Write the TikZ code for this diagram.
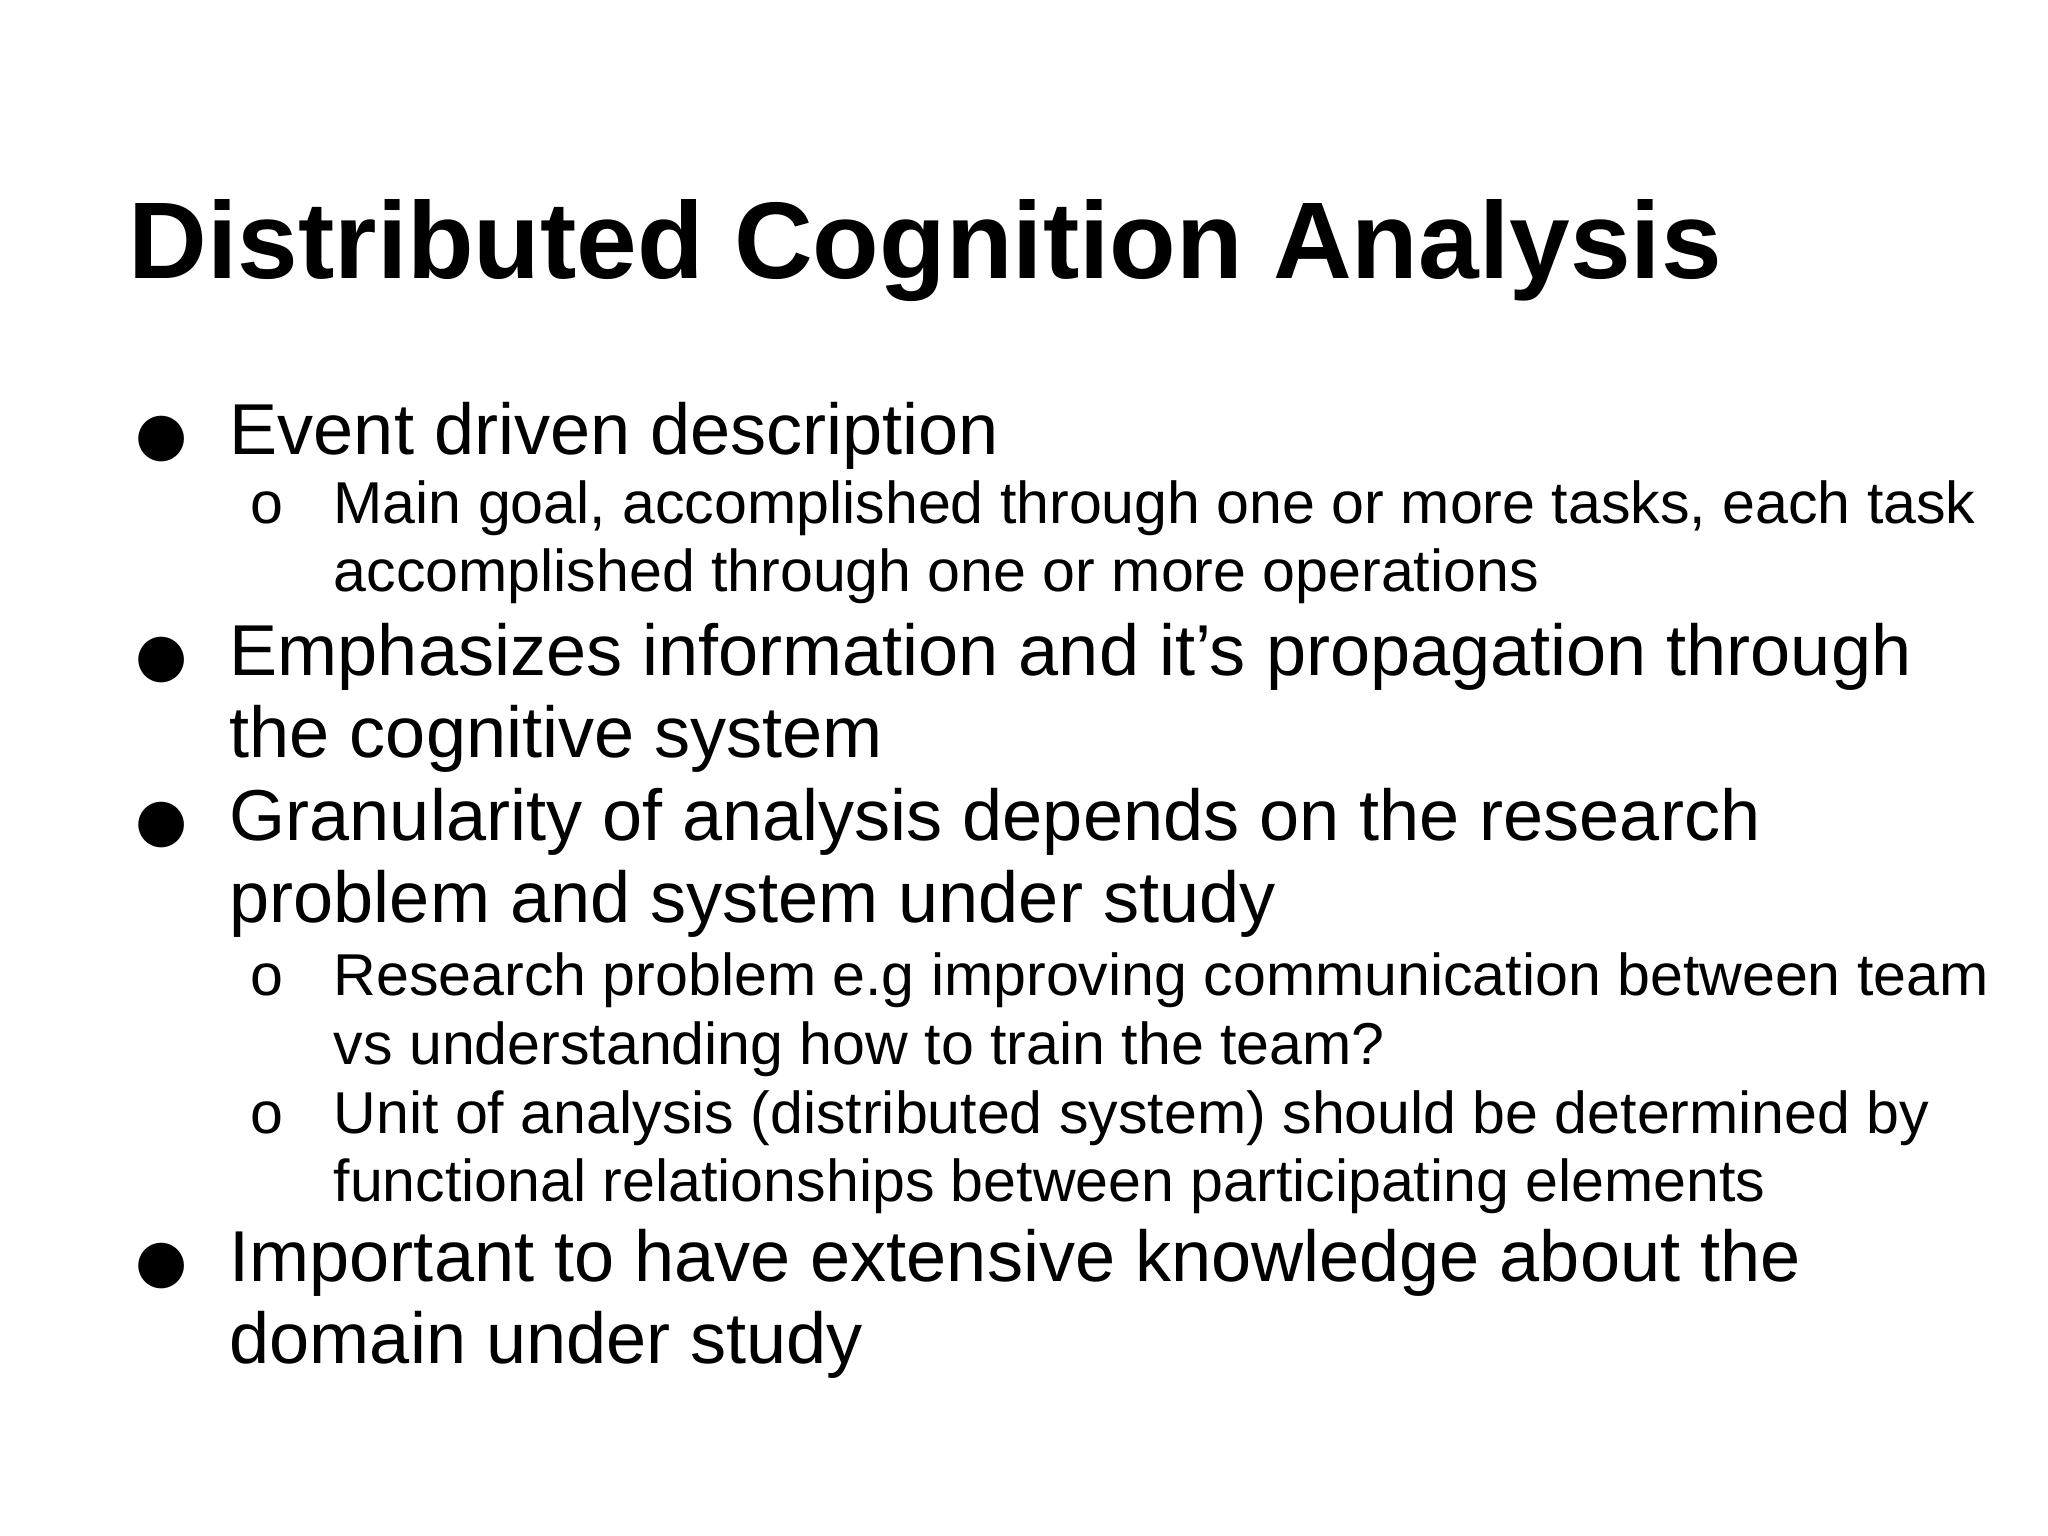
\documentclass[tikz,border=0pt]{standalone}
\usepackage{fontspec}
\setmainfont{Liberation Sans}
\newfontfamily\dejavu{DejaVu Sans}
\begin{document}
\begin{tikzpicture}[x=0.01cm,y=-0.01cm,
  ttl/.style={anchor=base west,inner sep=0pt,font=\fontsize{31}{36}\selectfont\bfseries},
  mainl/.style={anchor=base west,inner sep=0pt,font=\fontsize{20.5}{24}\selectfont},
  subl/.style={anchor=base west,inner sep=0pt,font=\fontsize{16.8}{20}\selectfont},
  bul/.style={anchor=base,inner sep=0pt,font=\fontsize{17}{20}\selectfont\dejavu},
  sbul/.style={anchor=base,inner sep=0pt,font=\fontsize{16.8}{20}\selectfont}]
\fill[white] (0,0) rectangle (2048,1536);
\useasboundingbox (0,0) rectangle (2048,1536);
\node[ttl] (title) at (128,278) {Distributed Cognition Analysis};
% bullets
\node[bul] (b1) at (162,454) {●};
\node[mainl] (t1) at (229,454) {Event driven description};
\node[sbul] (s1) at (267,523) {o};
\node[subl] (u1a) at (333,523) {Main goal, accomplished through one or more tasks, each task};
\node[subl] (u1b) at (333,591) {accomplished through one or more operations};
\node[bul] (b2) at (162,675) {●};
\node[mainl] (t2a) at (229,675) {Emphasizes information and it’s propagation through};
\node[mainl] (t2b) at (229,757) {the cognitive system};
\node[bul] (b3) at (162,840) {●};
\node[mainl] (t3a) at (229,840) {Granularity of analysis depends on the research};
\node[mainl] (t3b) at (229,922) {problem and system under study};
\node[sbul] (s2) at (267,995) {o};
\node[subl] (u2a) at (333,995) {Research problem e.g improving communication between team};
\node[subl] (u2b) at (333,1064) {vs understanding how to train the team?};
\node[sbul] (s3) at (267,1133) {o};
\node[subl] (u3a) at (333,1133) {Unit of analysis (distributed system) should be determined by};
\node[subl] (u3b) at (333,1201) {functional relationships between participating elements};
\node[bul] (b4) at (162,1281) {●};
\node[mainl] (t4a) at (229,1281) {Important to have extensive knowledge about the};
\node[mainl] (t4b) at (229,1363) {domain under study};
\end{tikzpicture}
\end{document}
